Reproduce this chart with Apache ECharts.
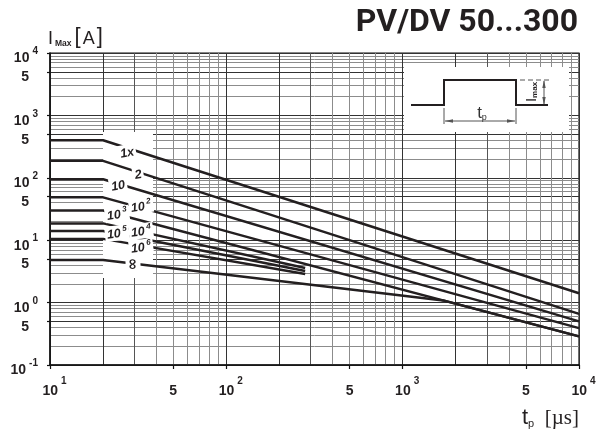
<!DOCTYPE html>
<html>
<head>
<meta charset="utf-8">
<script src="https://cdn.jsdelivr.net/npm/echarts@6/dist/echarts.min.js"></script>
<style>html,body{margin:0;padding:0;background:#fff;}#c{width:601px;height:435px;}</style>
</head>
<body>
<div id="c"></div>
<script>
// ---- data ----
const xGridValues = [10,20,30,40,50,60,70,80,90,100,200,300,400,500,600,700,800,900,1000,2000,3000,4000,5000,6000,7000,8000,9000,10000];
const yGridValues = [0.1,0.2,0.3,0.4,0.5,0.6,0.7,0.8,0.9,1,2,3,4,5,6,7,8,9,10,20,30,40,50,60,70,80,90,100,200,300,400,500,600,700,800,900,1000,2000,3000,4000,5000,6000,7000,8000,9000,10000];
const xLabelValues = [10,50,100,500,1000,5000,10000];
const yLabelValues = [0.1,0.5,1,5,10,50,100,500,1000,5000,10000];

const curveNames = ['1x','2','10','10^2','10^3','10^4','10^5','10^6','inf'];
const curve1x  = [[10,400],[20,400],[10000,1.41]];
const curve2   = [[10,187],[20,187],[10000,0.66]];
const curve10  = [[10,95],[20,95],[10000,0.50]];
const curve1e2 = [[10,48.6],[20,48.6],[10000,0.39]];
const curve1e3 = [[10,30],[20,30],[10000,0.288]];
const curve1e4 = [[10,18.6],[20,18.6],[280,3.59]];
const curve1e5 = [[10,14],[20,14],[280,3.2]];
const curve1e6 = [[10,10.5],[20,10.5],[280,2.88]];
const curveInf = [[10,4.8],[20,4.8],[1700,1.085],[10000,0.288]];
const curves = [curve1x,curve2,curve10,curve1e2,curve1e3,curve1e4,curve1e5,curve1e6,curveInf];

// ---- chart ----
const ink = '#231f20';
const chart = echarts.init(document.getElementById('c'), null, {renderer:'canvas'});

function logLabel(v){
  const e = Math.log10(v), r = Math.round(e);
  if (Math.abs(e - r) < 1e-6) return '{b|10}{s|' + r + '}';
  return '{f|' + Math.round(v / Math.pow(10, Math.floor(e + 1e-9))) + '}';
}
const F = 'Liberation Sans, Arial, sans-serif';
const yRich = {
  b:{fontFamily:F,fontWeight:'bold',fontSize:14,lineHeight:19,verticalAlign:'bottom',color:ink},
  s:{fontFamily:F,fontWeight:'bold',fontSize:10,lineHeight:19,verticalAlign:'top',color:ink,padding:[0,0,0,3]},
  f:{fontFamily:F,fontWeight:'bold',fontSize:14,lineHeight:19,verticalAlign:'bottom',color:ink,padding:[0,9,0,0]}
};
const xRich = {
  b:{fontFamily:F,fontWeight:'bold',fontSize:14,lineHeight:22,verticalAlign:'bottom',color:ink,padding:[0,0,0,9]},
  s:{fontFamily:F,fontWeight:'bold',fontSize:10,lineHeight:22,verticalAlign:'top',color:ink,padding:[0,0,0,3]},
  f:{fontFamily:F,fontWeight:'bold',fontSize:14,lineHeight:22,verticalAlign:'bottom',color:ink}
};
const G = '#8c8c8c', D = '#333';
const xColors = [D,D,'#555',G,G,G,G,G,G];
const yColors = [D,G,G,G,D,G,G,G,G];

function curveLabel(txt, x, y, rot){
  let t;
  if (txt.indexOf('^') > 0){ const p = txt.split('^'); t = '{b|' + p[0] + '}{s|' + p[1] + '}'; }
  else t = '{b|' + txt + '}';
  return {type:'text', z:5, x:x, y:y, rotation:rot||0, silent:true,
    style:{text:t, align:'center', verticalAlign:'middle', backgroundColor:'#fff', padding:[0,2,0,2],
      rich:{b:{fontFamily:F,fontWeight:'bold',fontStyle:'italic',fontSize:12.5,lineHeight:15,verticalAlign:'bottom',fill:ink,backgroundColor:'#fff'},
            s:{fontFamily:F,fontWeight:'bold',fontStyle:'italic',fontSize:8,lineHeight:15,verticalAlign:'top',fill:ink,padding:[0,0,0,2],backgroundColor:'#fff'}}}};
}

const option = {
  animation:false,
  backgroundColor:'#fff',
  grid:{left:50,right:22,top:53,bottom:70,show:true,borderColor:'#111',borderWidth:1.2,backgroundColor:'transparent'},
  xAxis:[
    {type:'log',logBase:10,min:10,max:10000,position:'bottom',
     axisLine:{show:true,lineStyle:{color:'#111',width:1.5}},
     axisTick:{show:false,customValues:xGridValues},
     splitLine:{show:true,lineStyle:{color:xColors,width:1}},
     minorSplitLine:{show:false},
     axisLabel:{customValues:xLabelValues,formatter:logLabel,rich:xRich,margin:11,showMinLabel:true,showMaxLabel:true}},
    {type:'log',logBase:10,min:10,max:10000,position:'bottom',
     axisLine:{show:false},axisLabel:{show:false},splitLine:{show:false},
     axisTick:{show:true,customValues:xLabelValues,length:4,lineStyle:{color:'#111',width:1.2}}}
  ],
  yAxis:[
    {type:'log',logBase:10,min:0.1,max:10000,position:'left',
     axisLine:{show:true,lineStyle:{color:'#111',width:1.5}},
     axisTick:{show:false,customValues:yGridValues},
     splitLine:{show:true,lineStyle:{color:yColors,width:1}},
     axisLabel:{customValues:yLabelValues,formatter:logLabel,rich:yRich,margin:12,padding:[6,0,0,0],showMinLabel:true,showMaxLabel:true}},
    {type:'log',logBase:10,min:0.1,max:10000,position:'left',
     axisLine:{show:false},axisLabel:{show:false},splitLine:{show:false},
     axisTick:{show:true,customValues:yLabelValues,length:3,lineStyle:{color:'#111',width:1.2}}}
  ],
  series: curves.map((d,i)=>({
    name:curveNames[i], type:'line', data:d, xAxisIndex:0, yAxisIndex:0,
    showSymbol:false, symbol:'none', z:3, silent:true,
    lineStyle:{color:ink,width:2.5}
  })),
  graphic:[
    // white label panel and inset panel (decoration)
    {type:'rect',z:1,silent:true,shape:{x:103,y:132,width:50,height:146},style:{fill:'#fff'}},
    {type:'rect',z:1,silent:true,shape:{x:404,y:67,width:165,height:65},style:{fill:'#fff'}},
    // pulse inset
    {type:'polyline',z:4,silent:true,shape:{points:[[411,105],[444,105],[444,80],[516,80],[516,105],[548,105]]},style:{stroke:ink,lineWidth:2,fill:null}},
    {type:'line',z:4,silent:true,shape:{x1:444,y1:108,x2:444,y2:124},style:{stroke:'#555',lineWidth:1}},
    {type:'line',z:4,silent:true,shape:{x1:516,y1:108,x2:516,y2:124},style:{stroke:'#555',lineWidth:1}},
    {type:'line',z:4,silent:true,shape:{x1:445,y1:121,x2:515,y2:121},style:{stroke:'#555',lineWidth:1}},
    {type:'polygon',z:4,silent:true,shape:{points:[[445,121],[453,119.3],[453,122.7]]},style:{fill:'#555'}},
    {type:'polygon',z:4,silent:true,shape:{points:[[515,121],[507,119.3],[507,122.7]]},style:{fill:'#555'}},
    {type:'line',z:4,silent:true,shape:{x1:544,y1:81,x2:544,y2:104},style:{stroke:'#555',lineWidth:1}},
    {type:'polygon',z:4,silent:true,shape:{points:[[544,80],[542.3,88],[545.7,88]]},style:{fill:'#555'}},
    {type:'polygon',z:4,silent:true,shape:{points:[[544,105],[542.3,97],[545.7,97]]},style:{fill:'#555'}},
    {type:'line',z:4,silent:true,shape:{x1:520,y1:80,x2:549,y2:80},style:{stroke:'#555',lineWidth:1,lineDash:[5,3]}},
    {type:'text',z:4,silent:true,x:531,y:92,rotation:Math.PI/2,
      style:{text:'{i|I}{m|max}',align:'center',verticalAlign:'middle',
        rich:{i:{fontFamily:F,fontSize:15,lineHeight:16,verticalAlign:'bottom',fill:ink},
              m:{fontFamily:F,fontWeight:'bold',fontSize:8,lineHeight:16,verticalAlign:'bottom',fill:ink}}}},
    {type:'text',z:4,silent:true,x:482,y:112,
      style:{text:'{t|t}{p|p}',align:'center',verticalAlign:'middle',
        rich:{t:{fontFamily:F,fontSize:17,lineHeight:20,verticalAlign:'bottom',fill:'#333'},
              p:{fontFamily:F,fontSize:9,lineHeight:16,verticalAlign:'bottom',fill:'#333'}}}},
    // curve labels
    curveLabel('1x',127,152,0.18),
    curveLabel('2',138,174,0.18),
    curveLabel('10',118,185,0.18),
    curveLabel('10^2',141,206,0.15),
    curveLabel('10^3',117,214,0.15),
    curveLabel('10^5',117,233,0.12),
    curveLabel('10^4',141,231,0.12),
    curveLabel('10^6',141,247,0.12),
    {type:'text',z:5,x:133,y:264,rotation:Math.PI/2,silent:true,
      style:{text:'∞',align:'center',verticalAlign:'middle',font:'bold 15px DejaVu Sans',fill:ink,backgroundColor:'#fff',padding:[0,2,0,2]}},
    // titles
    {type:'text',z:5,x:578,y:23,silent:true,
      style:{text:'PV/DV 50...300',align:'right',verticalAlign:'middle',font:'bold 32px Roboto',fill:ink}},
    {type:'text',z:5,x:48,y:37,silent:true,
      style:{text:'{i|I}{m|Max}{k|[}{a|A}{k|]}',align:'left',verticalAlign:'middle',
        rich:{i:{fontFamily:F,fontSize:18,lineHeight:22,verticalAlign:'bottom',fill:ink,padding:[0,2,0,0]},
              m:{fontFamily:F,fontWeight:'bold',fontSize:8.5,lineHeight:22,verticalAlign:'bottom',fill:ink,padding:[0,3,0,0]},
              k:{fontFamily:F,fontSize:22,lineHeight:22,verticalAlign:'bottom',fill:ink},
              a:{fontFamily:F,fontSize:18,lineHeight:22,verticalAlign:'bottom',fill:ink,padding:[0,2,0,2]}}}},
    {type:'text',z:5,x:579,y:416,silent:true,
      style:{text:'{t|t}{p|p}{k|  [µs]}',align:'right',verticalAlign:'middle',
        rich:{t:{fontFamily:F,fontSize:22,lineHeight:26,verticalAlign:'bottom',fill:ink},
              p:{fontFamily:F,fontSize:11,lineHeight:22,verticalAlign:'bottom',fill:ink},
              k:{fontFamily:'Liberation Serif, serif',fontSize:21,lineHeight:26,verticalAlign:'bottom',fill:ink}}}}
  ]
};
chart.setOption(option);
</script>
</body>
</html>
